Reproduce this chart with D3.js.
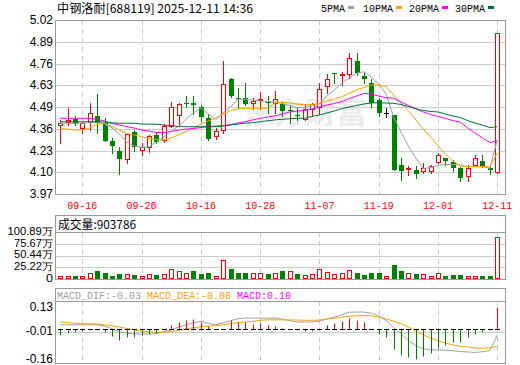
<!DOCTYPE html>
<html>
<head>
<meta charset="utf-8">
<script src="https://cdn.jsdelivr.net/npm/d3@7"></script>
<style>
  body { margin: 0; background: #fff; }
  svg { display: block; }
</style>
</head>
<body>
<div id="chart"></div>
<script>
// --- data ---
const title = '中钢洛耐[688119] 2025-12-11 14:36';
const dates = ['09-11','09-12','09-15','09-16','09-17','09-18','09-19','09-22','09-23','09-24','09-25','09-26','09-29','09-30',
  '10-09','10-10','10-13','10-14','10-15','10-16','10-17','10-20','10-21','10-22','10-23','10-24','10-27','10-28','10-29','10-30','10-31',
  '11-03','11-04','11-05','11-06','11-07','11-10','11-11','11-12','11-13','11-14','11-17','11-18','11-19','11-20','11-21','11-24','11-25','11-26','11-27','11-28',
  '12-01','12-02','12-03','12-04','12-05','12-08','12-09','12-10','12-11'];
const dateTicks = ['09-16','09-26','10-16','10-28','11-07','11-19','12-01','12-11'];

const open  = [4.385,4.405,4.423,4.370,4.405,4.441,4.397,4.290,4.231,4.179,4.346,4.236,4.252,4.326,4.296,4.380,4.447,4.521,4.521,4.497,
  4.427,4.322,4.356,4.662,4.549,4.548,4.517,4.537,4.527,4.521,4.511,4.477,4.449,4.423,4.481,4.497,4.624,4.698,4.688,4.694,
  4.773,4.684,4.638,4.537,4.461,4.447,4.145,4.121,4.115,4.109,4.111,4.161,4.185,4.165,4.125,4.080,4.145,4.169,4.125,4.105];
const close = [4.397,4.417,4.391,4.397,4.457,4.400,4.292,4.260,4.179,4.332,4.252,4.256,4.320,4.282,4.380,4.497,4.511,4.517,4.505,4.433,
  4.300,4.350,4.632,4.563,4.545,4.513,4.531,4.541,4.523,4.541,4.473,4.473,4.445,4.483,4.511,4.602,4.662,4.694,4.694,4.789,
  4.698,4.666,4.521,4.461,4.461,4.115,4.111,4.125,4.089,4.125,4.141,4.205,4.171,4.129,4.068,4.125,4.185,4.141,4.115,4.940];
const high  = [4.417,4.487,4.441,4.406,4.517,4.575,4.427,4.306,4.252,4.332,4.356,4.276,4.326,4.346,4.391,4.527,4.521,4.561,4.561,4.507,
  4.453,4.366,4.773,4.672,4.612,4.642,4.551,4.587,4.563,4.592,4.527,4.507,4.487,4.511,4.517,4.642,4.694,4.698,4.708,4.819,
  4.819,4.708,4.664,4.548,4.487,4.447,4.185,4.139,4.139,4.155,4.145,4.219,4.189,4.175,4.135,4.145,4.205,4.205,4.139,4.940];
const low   = [4.280,4.386,4.385,4.340,4.356,4.340,4.292,4.219,4.089,4.159,4.231,4.205,4.225,4.276,4.286,4.372,4.380,4.497,4.451,4.412,
  4.296,4.302,4.340,4.557,4.487,4.507,4.481,4.481,4.461,4.461,4.441,4.397,4.417,4.417,4.447,4.453,4.578,4.642,4.628,4.668,
  4.688,4.638,4.497,4.441,4.433,4.115,4.054,4.085,4.068,4.099,4.099,4.155,4.145,4.111,4.050,4.050,4.141,4.135,4.089,4.095];

const ma5  = [4.397,4.397,4.397,4.398,4.400,4.404,4.392,4.368,4.332,4.284,4.260,4.252,4.257,4.284,4.314,4.350,4.380,4.423,4.459,4.489,
  4.453,4.417,4.459,4.495,4.543,4.540,4.537,4.531,4.528,4.527,4.516,4.504,4.492,4.492,4.501,4.513,4.561,4.598,4.638,4.670,
  4.698,4.708,4.676,4.634,4.573,4.435,4.344,4.260,4.187,4.124,4.129,4.145,4.148,4.148,4.145,4.135,4.135,4.135,4.125,4.296];
const ma10 = [4.366,4.362,4.356,4.356,4.368,4.389,4.397,4.377,4.356,4.335,4.326,4.316,4.305,4.299,4.296,4.308,4.326,4.347,4.368,4.392,
  4.411,4.429,4.453,4.474,4.483,4.487,4.487,4.487,4.487,4.519,4.525,4.519,4.513,4.507,4.510,4.516,4.531,4.543,4.557,4.577,
  4.598,4.613,4.628,4.628,4.619,4.567,4.519,4.471,4.417,4.362,4.314,4.260,4.211,4.169,4.139,4.135,4.135,4.135,4.135,4.217];
const ma20 = [4.427,4.427,4.427,4.427,4.427,4.420,4.411,4.395,4.386,4.377,4.368,4.356,4.350,4.341,4.341,4.347,4.356,4.362,4.365,4.371,
  4.377,4.380,4.383,4.389,4.398,4.406,4.417,4.426,4.435,4.441,4.453,4.465,4.471,4.474,4.483,4.495,4.507,4.516,4.527,4.546,
  4.561,4.577,4.573,4.561,4.551,4.548,4.525,4.504,4.486,4.465,4.450,4.438,4.426,4.413,4.404,4.368,4.338,4.308,4.281,4.290];
const ma30 = [4.406,4.406,4.406,4.406,4.406,4.406,4.404,4.400,4.397,4.397,4.397,4.392,4.392,4.391,4.386,4.383,4.377,4.376,4.376,4.376,
  4.376,4.376,4.380,4.386,4.392,4.397,4.401,4.406,4.412,4.417,4.421,4.424,4.427,4.427,4.438,4.447,4.459,4.471,4.485,4.495,
  4.504,4.513,4.519,4.521,4.519,4.517,4.510,4.498,4.483,4.474,4.468,4.465,4.453,4.441,4.432,4.413,4.398,4.386,4.371,4.376];

// volume in 万 shares
const volume = [7.2,7.2,6.5,5.9,12.4,17.4,12.4,6.5,10.2,10.2,8.7,5.9,10.2,8.7,10.2,21.1,17.4,12.4,17.4,10.9,
  12.4,6.5,41.3,21.7,12.4,12.4,13.7,12.4,10.2,12.4,17.4,17.4,10.2,8.7,10.2,21.1,14.6,10.2,12.4,19.6,
  12.4,8.7,12.4,12.4,7.2,30.4,17.4,12.4,10.2,10.2,7.2,12.4,6.5,8.7,8.7,7.2,7.2,6.5,6.5,90.3786];

const dif  = [0.018,0.018,0.018,0.018,0.018,0.018,0.012,0.000,-0.014,-0.021,-0.024,-0.024,-0.024,-0.023,-0.014,-0.005,0.007,0.018,0.028,0.034,
  0.025,0.018,0.028,0.037,0.046,0.049,0.049,0.049,0.049,0.049,0.044,0.037,0.031,0.031,0.031,0.035,0.045,0.053,0.065,0.076,
  0.077,0.077,0.071,0.060,0.037,0.007,-0.023,-0.055,-0.078,-0.092,-0.097,-0.097,-0.099,-0.101,-0.105,-0.107,-0.109,-0.106,-0.100,-0.030];
const dea  = [0.031,0.028,0.025,0.023,0.023,0.022,0.018,0.014,0.008,0.001,-0.005,-0.011,-0.014,-0.017,-0.016,-0.013,-0.007,-0.001,0.005,0.009,
  0.012,0.015,0.018,0.024,0.028,0.031,0.034,0.039,0.041,0.041,0.041,0.041,0.040,0.039,0.039,0.040,0.044,0.048,0.053,0.058,
  0.060,0.060,0.060,0.053,0.045,0.035,0.023,0.008,-0.011,-0.028,-0.043,-0.055,-0.066,-0.074,-0.081,-0.084,-0.088,-0.089,-0.089,-0.079];
const macd = [-0.028,-0.019,-0.016,-0.010,-0.007,-0.005,-0.016,-0.033,-0.053,-0.037,-0.037,-0.030,-0.025,-0.020,-0.005,0.019,0.031,0.042,0.047,0.031,
  0.014,-0.003,-0.003,0.040,0.029,0.029,0.020,0.027,0.017,0.012,0.002,-0.003,-0.008,-0.012,-0.011,0.000,0.017,0.027,0.036,0.050,
  0.040,0.029,0.001,-0.022,-0.040,-0.091,-0.122,-0.130,-0.137,-0.127,-0.111,-0.088,-0.073,-0.060,-0.060,-0.040,-0.022,-0.014,-0.007,0.100];

const priceLabels = ['5.02','4.89','4.76','4.63','4.49','4.36','4.23','4.10','3.97'];
const volLabels = ['100.89万','75.67万','50.44万','25.22万','0'];
const macdLabels = ['0.13','-0.01','-0.16'];
const maNames = ['5PMA','10PMA','20PMA','30PMA'];

// --- drawing ---
const W = 520, H = 365;
const RED = '#ff0000', GREEN = '#008000', GRID = '#cccccc', FRAME = '#999999';
const maColors = ['#a0a0a0', '#f5a300', '#ff00ff', '#006f3a'];
const mono = '"Liberation Mono", "DejaVu Sans Mono", monospace';
const sans = '"Liberation Sans", Arial, sans-serif';
const cjk = '"Noto Sans CJK SC", sans-serif';

const svg = d3.select('#chart').append('svg')
  .attr('width', W).attr('height', H)
  .style('background', '#fff');

const x = d3.scaleBand().domain(dates).range([56.4, 501]);
const xc = d => x(d) + x.bandwidth() / 2;
const px = d => Math.round(xc(d));
const snap = v => Math.round(v) + 0.5;

const yP = d3.scaleLinear().domain([3.97, 5.02]).range([194, 20]);
const yV = d3.scaleLinear().domain([0, 100.89]).range([279, 232.5]);
const yM = d3.scaleLinear().domain([-0.16, 0.13]).range([363.5, 300.5]);

const rows = dates.map((d, i) => ({
  d, i, o: open[i], c: close[i], h: high[i], l: low[i], v: volume[i],
  prev: i ? close[i - 1] : open[i]
}));

// dashed verticals at the date ticks
function vDashes(y0, y1) {
  svg.append('g').selectAll('line').data(dateTicks).join('line')
    .attr('x1', d => px(d) + 0.5).attr('x2', d => px(d) + 0.5)
    .attr('y1', y0).attr('y2', y1)
    .attr('stroke', GRID).attr('stroke-dasharray', '5,4');
}

// main price panel
const priceGrid = d3.range(priceLabels.length).map(i => 5.02 - i * (5.02 - 3.97) / (priceLabels.length - 1));
svg.append('g').selectAll('line').data(priceGrid.slice(1, -1)).join('line')
  .attr('x1', 55).attr('x2', 505)
  .attr('y1', d => snap(yP(d))).attr('y2', d => snap(yP(d)))
  .attr('stroke', GRID);
vDashes(20, 194);

// faint watermark
svg.append('text')
  .attr('x', 243).attr('y', 123)
  .attr('font-family', cjk).attr('font-size', 30).attr('font-weight', 'bold')
  .attr('textLength', 124).attr('lengthAdjust', 'spacingAndGlyphs')
  .attr('fill', '#ebebeb')
  .text('东方财富');

// candles
const cg = svg.append('g');
cg.selectAll('line.wick').data(rows).join('line')
  .attr('class', 'wick')
  .attr('x1', r => px(r.d) + 0.5).attr('x2', r => px(r.d) + 0.5)
  .attr('y1', r => Math.round(yP(r.h))).attr('y2', r => Math.round(yP(r.l)) + 1)
  .attr('stroke', r => r.c > r.o ? RED : (r.c < r.o ? GREEN : '#000'));

cg.selectAll('rect.up').data(rows.filter(r => r.c > r.o)).join('rect')
  .attr('class', 'up')
  .attr('x', r => px(r.d) - 1.5)
  .attr('y', r => Math.round(yP(r.c)) + 0.5)
  .attr('width', 4)
  .attr('height', r => Math.max(1, Math.round(yP(r.o)) - Math.round(yP(r.c))))
  .attr('fill', '#fff').attr('stroke', RED);

cg.selectAll('rect.down').data(rows.filter(r => r.c < r.o)).join('rect')
  .attr('class', 'down')
  .attr('x', r => px(r.d) - 2)
  .attr('y', r => Math.round(yP(r.o)))
  .attr('width', 5)
  .attr('height', r => Math.max(1, Math.round(yP(r.c)) - Math.round(yP(r.o))))
  .attr('fill', GREEN);

cg.selectAll('line.flat').data(rows.filter(r => r.c === r.o)).join('line')
  .attr('class', 'flat')
  .attr('x1', r => px(r.d) - 2).attr('x2', r => px(r.d) + 3)
  .attr('y1', r => snap(yP(r.o))).attr('y2', r => snap(yP(r.o)))
  .attr('stroke', '#000');

// moving averages
[ma5, ma10, ma20, ma30].forEach((s, k) => {
  const line = d3.line().x((v, i) => xc(dates[i])).y(v => yP(v));
  svg.append('path').datum(s)
    .attr('d', line)
    .attr('fill', 'none')
    .attr('stroke', maColors[k])
    .attr('stroke-width', 1);
});

// frame + labels
svg.append('rect').attr('x', 55.5).attr('y', 20.5).attr('width', 450).attr('height', 174)
  .attr('fill', 'none').attr('stroke', FRAME);

svg.append('g').selectAll('text').data(priceLabels).join('text')
  .attr('x', 53).attr('y', (d, i) => yP(priceGrid[i]) + 4)
  .attr('text-anchor', 'end')
  .attr('font-family', sans).attr('font-size', 12).attr('fill', '#000')
  .text(d => d);

svg.append('g').selectAll('text').data(dateTicks).join('text')
  .attr('x', d => xc(d)).attr('y', 209)
  .attr('text-anchor', 'middle')
  .attr('font-family', mono).attr('font-size', 11)
  .attr('textLength', 30).attr('lengthAdjust', 'spacingAndGlyphs')
  .attr('fill', RED)
  .text(d => d);

// title and legend
svg.append('text')
  .attr('x', 57).attr('y', 13)
  .attr('font-family', cjk).attr('font-size', 12)
  .attr('textLength', 196).attr('lengthAdjust', 'spacingAndGlyphs')
  .attr('fill', '#000')
  .text(title);

const legendX = [321, 363, 409, 455];
const leg = svg.append('g').selectAll('g').data(maNames).join('g');
leg.append('text')
  .attr('x', (d, i) => legendX[i]).attr('y', 12)
  .attr('font-family', mono).attr('font-size', 11)
  .attr('textLength', d => d.length * 6).attr('lengthAdjust', 'spacingAndGlyphs')
  .attr('fill', '#000')
  .text(d => d);
leg.append('rect')
  .attr('x', (d, i) => legendX[i] + d.length * 6 + 3).attr('y', 6)
  .attr('width', 6).attr('height', 3)
  .attr('fill', (d, i) => maColors[i]);

// volume panel
const volGrid = d3.range(volLabels.length).map(i => 100.89 - i * 100.89 / (volLabels.length - 1));
svg.append('g').selectAll('line').data(volGrid.slice(1, -1)).join('line')
  .attr('x1', 55).attr('x2', 505)
  .attr('y1', d => snap(yV(d))).attr('y2', d => snap(yV(d)))
  .attr('stroke', GRID);
vDashes(232, 279);

const vg = svg.append('g');
vg.selectAll('rect.vup').data(rows.filter(r => r.c >= r.prev)).join('rect')
  .attr('class', 'vup')
  .attr('x', r => px(r.d) - 1.5)
  .attr('y', r => Math.round(yV(r.v)) + 0.5)
  .attr('width', 4)
  .attr('height', r => Math.max(1, Math.round(yV(0)) - Math.round(yV(r.v)) - 1))
  .attr('fill', '#fff').attr('stroke', RED);
vg.selectAll('rect.vdn').data(rows.filter(r => r.c < r.prev)).join('rect')
  .attr('class', 'vdn')
  .attr('x', r => px(r.d) - 2)
  .attr('y', r => Math.round(yV(r.v)))
  .attr('width', 5)
  .attr('height', r => Math.round(yV(0)) - Math.round(yV(r.v)))
  .attr('fill', GREEN);

svg.append('rect').attr('x', 55.5).attr('y', 215.5).attr('width', 450).attr('height', 64)
  .attr('fill', 'none').attr('stroke', FRAME);
svg.append('line').attr('x1', 55).attr('x2', 505).attr('y1', 232.5).attr('y2', 232.5).attr('stroke', FRAME);

svg.append('text')
  .attr('x', 58).attr('y', 228.5)
  .attr('font-family', cjk).attr('font-size', 12)
  .attr('textLength', 78).attr('lengthAdjust', 'spacingAndGlyphs')
  .attr('fill', '#000')
  .text('成交量:' + Math.round(volume[volume.length - 1] * 10000));

// tick labels are tightly packed; small font, stretched to the reference width
svg.append('g').selectAll('text').data(volLabels).join('text')
  .attr('x', 53).attr('y', (d, i) => yV(volGrid[i]) + 2.5)
  .attr('text-anchor', 'end')
  .attr('font-family', sans).attr('font-size', 10).attr('fill', '#000')
  .attr('textLength', d => d.length > 1 ? (d.length - 1) * 6.6 + 6 : 7)
  .attr('lengthAdjust', 'spacingAndGlyphs')
  .text(d => d);

// MACD panel
const macdMid = (0.13 + -0.16) / 2;
svg.append('line').attr('x1', 55).attr('x2', 505)
  .attr('y1', snap(yM(macdMid))).attr('y2', snap(yM(macdMid)))
  .attr('stroke', GRID);
vDashes(301, 364);

[dif, dea].forEach((s, k) => {
  const line = d3.line().x((v, i) => xc(dates[i])).y(v => yM(v));
  svg.append('path').datum(s)
    .attr('d', line)
    .attr('fill', 'none')
    .attr('stroke', k ? '#f5a300' : '#a0a0a0')
    .attr('stroke-width', 1);
});

const y0 = snap(yM(0));
const mg = svg.append('g');
mg.selectAll('line.bar').data(macd).join('line')
  .attr('class', 'bar')
  .attr('x1', (v, i) => px(dates[i]) + 0.5).attr('x2', (v, i) => px(dates[i]) + 0.5)
  .attr('y1', y0).attr('y2', v => Math.round(yM(v)) + 0.5)
  .attr('stroke', v => v > 0 ? RED : GREEN);
mg.selectAll('line.zero').data(macd).join('line')
  .attr('class', 'zero')
  .attr('x1', (v, i) => px(dates[i]) - 2).attr('x2', (v, i) => px(dates[i]) + 3)
  .attr('y1', y0).attr('y2', y0)
  .attr('stroke', '#000');

svg.append('rect').attr('x', 55.5).attr('y', 288.5).attr('width', 450).attr('height', 75)
  .attr('fill', 'none').attr('stroke', FRAME);
svg.append('line').attr('x1', 55).attr('x2', 505).attr('y1', 301.5).attr('y2', 301.5).attr('stroke', FRAME);

const last = dates.length - 1;
const macdHead = [
  { t: 'MACD_DIF:' + dif[last].toFixed(2), x: 57, c: '#a0a0a0' },
  { t: 'MACD_DEA:' + dea[last].toFixed(2), x: 147, c: '#f5a300' },
  { t: 'MACD:' + macd[last].toFixed(2), x: 237, c: '#ff00ff' }
];
svg.append('g').selectAll('text').data(macdHead).join('text')
  .attr('x', d => d.x).attr('y', 298.5)
  .attr('font-family', mono).attr('font-size', 11)
  .attr('textLength', d => d.t.length * 6).attr('lengthAdjust', 'spacingAndGlyphs')
  .attr('fill', d => d.c)
  .text(d => d.t);

svg.append('g').selectAll('text').data(macdLabels).join('text')
  .attr('x', 53).attr('y', (d, i) => Math.min(359, Math.max(307, yM(+d))) + 4)
  .attr('text-anchor', 'end')
  .attr('font-family', sans).attr('font-size', 12).attr('fill', '#000')
  .text(d => d);
</script>
</body>
</html>
